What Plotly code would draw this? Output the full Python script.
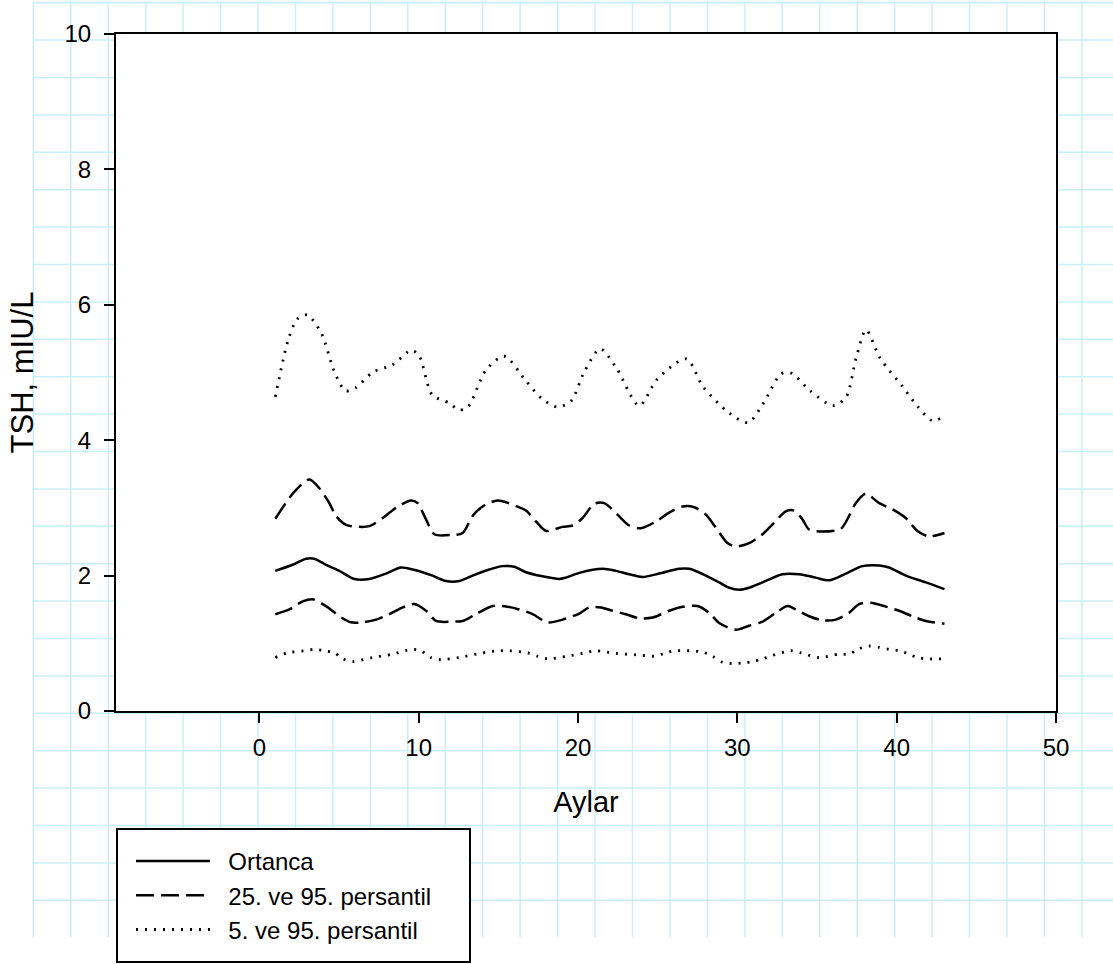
import plotly.graph_objects as go

# ---------------- data ----------------
x_p95 = [1.0, 1.82, 2.38, 3.01, 3.89, 4.71, 5.40, 6.02, 7.15, 8.34, 9.54, 10.04, 10.85, 11.92, 12.48,
         13.05, 14.24, 15.37, 16.75, 17.75, 18.7, 19.57, 20.39, 21.39, 22.40, 23.84, 24.97, 26.79,
         27.85, 29.49, 30.68, 31.62, 32.75, 33.38, 34.57, 36.01, 36.83, 37.45, 38.08, 38.96, 40.34,
         41.28, 42.22, 42.9]
y_p95 = [4.64, 5.49, 5.79, 5.85, 5.58, 5.01, 4.73, 4.77, 5.01, 5.11, 5.33, 5.24, 4.67, 4.55, 4.45,
         4.48, 5.04, 5.24, 4.87, 4.61, 4.49, 4.58, 5.01, 5.35, 5.07, 4.51, 4.90, 5.20,
         4.79, 4.40, 4.26, 4.54, 4.98, 4.99, 4.73, 4.51, 4.64, 5.21, 5.63, 5.21, 4.80,
         4.51, 4.29, 4.34]

x_p75 = [1.0, 2.2, 3.14, 3.76, 4.39, 4.81, 5.44, 6.27, 6.9, 7.74, 8.57, 9.52, 9.93, 10.46, 10.98,
         12.03, 12.76, 13.38, 14.01, 14.95, 16.2, 16.73, 17.36, 17.99, 19.03, 19.66, 20.28, 21.02,
         21.64, 22.48, 23.21, 23.95, 24.89, 25.72, 26.56, 27.29, 28.02, 28.65, 29.38, 29.9, 30.74,
         31.58, 32.31, 33.04, 33.56, 34.09, 34.5, 35.34, 36.49, 37.01, 37.43, 38.06, 38.9, 39.73,
         40.57, 41.3, 42.03, 43.0]
y_p75 = [2.84, 3.24, 3.42, 3.29, 3.07, 2.88, 2.75, 2.72, 2.73, 2.85, 3.00, 3.11, 3.07, 2.83, 2.61,
         2.60, 2.63, 2.88, 3.02, 3.11, 3.02, 2.96, 2.80, 2.66, 2.72, 2.74, 2.85, 3.06,
         3.07, 2.90, 2.74, 2.70, 2.80, 2.93, 3.02, 3.01, 2.90, 2.71, 2.48, 2.43, 2.48,
         2.61, 2.78, 2.95, 2.96, 2.83, 2.68, 2.65, 2.69, 2.88, 3.07, 3.21, 3.07, 2.98,
         2.85, 2.66, 2.58, 2.63]

x_med = [1.0, 2.09, 2.93, 3.45, 4.18, 5.02, 5.96, 6.9, 7.95, 8.89, 9.62, 10.24, 10.87, 11.71, 12.55,
         13.38, 14.43, 15.26, 15.99, 16.73, 17.77, 18.82, 19.24, 20.08, 21.54, 22.38, 23.21, 24.05,
         25.09, 26.35, 26.98, 28.02, 28.86, 29.49, 30.11, 30.74, 31.58, 32.83, 33.88, 34.92, 35.76,
         36.81, 37.85, 38.9, 39.52, 40.57, 41.83, 43.0]
y_med = [2.07, 2.16, 2.25, 2.25, 2.16, 2.07, 1.95, 1.95, 2.03, 2.12, 2.09, 2.05, 2.00, 1.92, 1.92,
         2.00, 2.09, 2.14, 2.13, 2.05, 1.99, 1.95, 1.97, 2.04, 2.10, 2.07, 2.02, 1.98,
         2.03, 2.10, 2.10, 2.00, 1.90, 1.82, 1.79, 1.82, 1.90, 2.02, 2.02, 1.97, 1.93,
         2.03, 2.14, 2.15, 2.12, 2.00, 1.90, 1.80]

x_p25 = [1.0, 1.88, 2.72, 3.34, 4.18, 5.02, 5.75, 6.48, 7.32, 8.16, 9.0, 9.72, 10.46, 11.09, 12.13,
         12.76, 13.59, 14.64, 15.26, 16.31, 17.15, 18.09, 19.03, 20.08, 20.7, 21.44, 22.16, 23.0,
         23.84, 24.68, 25.72, 26.56, 27.5, 28.23, 28.86, 29.9, 30.74, 31.58, 32.42, 33.15, 33.67,
         34.5, 35.34, 36.18, 37.01, 37.64, 38.37, 39.21, 40.15, 40.98, 41.83, 43.0]
y_p25 = [1.43, 1.50, 1.62, 1.65, 1.55, 1.40, 1.31, 1.31, 1.35, 1.43, 1.53, 1.58, 1.48, 1.33, 1.32,
         1.33, 1.43, 1.55, 1.55, 1.50, 1.43, 1.31, 1.35, 1.44, 1.53, 1.53, 1.48, 1.43,
         1.37, 1.38, 1.48, 1.54, 1.55, 1.45, 1.30, 1.20, 1.26, 1.32, 1.45, 1.55, 1.50,
         1.40, 1.34, 1.35, 1.45, 1.58, 1.60, 1.55, 1.48, 1.40, 1.33, 1.29]

x_p5 = [1.0, 1.78, 2.82, 3.45, 4.08, 4.71, 5.23, 5.85, 7.11, 8.36, 9.52, 10.14, 10.77, 11.4, 12.55,
        13.8, 14.95, 15.68, 16.83, 17.46, 18.09, 19.34, 20.49, 21.12, 22.38, 23.63, 24.78, 25.41,
        26.04, 27.81, 28.44, 29.07, 29.69, 30.32, 30.95, 31.58, 32.2, 33.36, 33.98, 35.13, 36.39,
        37.01, 37.64, 38.27, 38.9, 39.52, 40.15, 40.67, 41.3, 41.93, 42.9]
y_p5 = [0.79, 0.86, 0.89, 0.91, 0.89, 0.86, 0.77, 0.73, 0.79, 0.84, 0.91, 0.89, 0.79, 0.76, 0.79,
        0.85, 0.89, 0.89, 0.86, 0.81, 0.77, 0.81, 0.86, 0.89, 0.85, 0.83, 0.81, 0.85,
        0.89, 0.87, 0.81, 0.72, 0.70, 0.71, 0.73, 0.77, 0.82, 0.89, 0.86, 0.79, 0.84,
        0.84, 0.92, 0.96, 0.94, 0.91, 0.89, 0.85, 0.79, 0.77, 0.77]

legend_names = ["Ortanca", "25. ve 95. persantil", "5. ve 95. persantil"]
x_ticks = [0, 10, 20, 30, 40, 50]
y_ticks = [0, 2, 4, 6, 8, 10]

# ---------------- styling ----------------
FONT = "Liberation Sans, Arial, sans-serif"
W, H = 1113, 977             # page slightly taller than the window; the capture shows the top 964 px

PLOT_L, PLOT_R, PLOT_T, PLOT_B = 116, 1056, 34, 711
ML, MT = PLOT_L, PLOT_T
MR, MB = W - PLOT_R, H - PLOT_B
PW, PH = PLOT_R - PLOT_L, PLOT_B - PLOT_T

SOLID = dict(color="black", width=2.5, dash="solid", shape="spline", smoothing=0.8)
DASHED = dict(color="black", width=2.5, dash="18px,7px", shape="spline", smoothing=0.8)
DOTTED = dict(color="black", width=2.8, dash="2px,7px", shape="spline", smoothing=0.8)

fig = go.Figure()
fig.add_trace(go.Scatter(x=x_med, y=y_med, mode="lines", line=SOLID,
                         name="\u00a0\u00a0" + legend_names[0], legendrank=1))
fig.add_trace(go.Scatter(x=x_p75, y=y_p75, mode="lines", line=DASHED,
                         name="\u00a0\u00a0" + legend_names[1], legendgroup="d", legendrank=2))
fig.add_trace(go.Scatter(x=x_p25, y=y_p25, mode="lines", line=DASHED,
                         name=legend_names[1], legendgroup="d", showlegend=False))
fig.add_trace(go.Scatter(x=x_p95, y=y_p95, mode="lines", line=DOTTED,
                         name="\u00a0\u00a0" + legend_names[2], legendgroup="p", legendrank=3))
fig.add_trace(go.Scatter(x=x_p5, y=y_p5, mode="lines", line=DOTTED,
                         name=legend_names[2], legendgroup="p", showlegend=False))


def px2paper_x(px):
    return (px - PLOT_L) / PW


def py2paper_y(py):
    return (PLOT_B - py) / PH


# graph-paper background (decoration)
shapes = []
GRID = "#c8f0f6"
gx0, gstep_x = 33.3, 37.45
gy0, gstep_y = 2.7, 37.4
k = 0
while gx0 + k * gstep_x < W:
    xp = px2paper_x(gx0 + k * gstep_x)
    shapes.append(dict(type="line", xref="paper", yref="paper", x0=xp, x1=xp,
                       y0=py2paper_y(gy0), y1=py2paper_y(937), line=dict(color=GRID, width=1.5),
                       layer="below"))
    k += 1
k = 0
while gy0 + k * gstep_y < 930:
    yp = py2paper_y(gy0 + k * gstep_y)
    shapes.append(dict(type="line", xref="paper", yref="paper", x0=px2paper_x(gx0), x1=px2paper_x(W),
                       y0=yp, y1=yp, line=dict(color=GRID, width=1.5), layer="below"))
    k += 1
# white plot area
shapes.append(dict(type="rect", xref="paper", yref="paper", x0=0, x1=1, y0=0, y1=1,
                   fillcolor="white", line=dict(width=0), layer="below"))
# legend box
shapes.append(dict(type="rect", xref="paper", yref="paper",
                   x0=px2paper_x(117), x1=px2paper_x(470), y0=py2paper_y(962), y1=py2paper_y(829),
                   fillcolor="white", line=dict(color="black", width=2), layer="below"))

axis_common = dict(showgrid=False, zeroline=False, showline=True, linecolor="black", linewidth=2,
                   mirror=True, ticks="outside", ticklen=10, tickwidth=2, tickcolor="black",
                   tickfont=dict(family=FONT, size=24, color="black"))

fig.update_layout(
    width=W, height=H, autosize=False,
    margin=dict(l=ML, r=MR, t=MT, b=MB, pad=0),
    paper_bgcolor="white", plot_bgcolor="rgba(0,0,0,0)",
    shapes=shapes,
    xaxis=dict(range=[-9, 50], tickvals=x_ticks, ticktext=[str(v) for v in x_ticks],
               ticklabelstandoff=4,
               title=dict(text="Aylar", font=dict(family=FONT, size=29, color="black"), standoff=32),
               **axis_common),
    yaxis=dict(range=[0, 10], tickvals=y_ticks, ticktext=[str(v) for v in y_ticks],
               ticklabelstandoff=8,
               title=dict(text="TSH, mIU/L", font=dict(family=FONT, size=31, color="black"), standoff=22),
               **axis_common),
    showlegend=True,
    legend=dict(x=px2paper_x(131), y=py2paper_y(839), xanchor="left", yanchor="top",
                bgcolor="rgba(0,0,0,0)", borderwidth=0, itemwidth=74,
                font=dict(family=FONT, size=24, color="black"), tracegroupgap=0),
)

# remove the default 8px body margin so the figure starts at the window's top-left corner
fig.write_html("out.html", config={"displayModeBar": False},
               post_script="document.body.style.margin='0';document.body.style.overflow='hidden';")
